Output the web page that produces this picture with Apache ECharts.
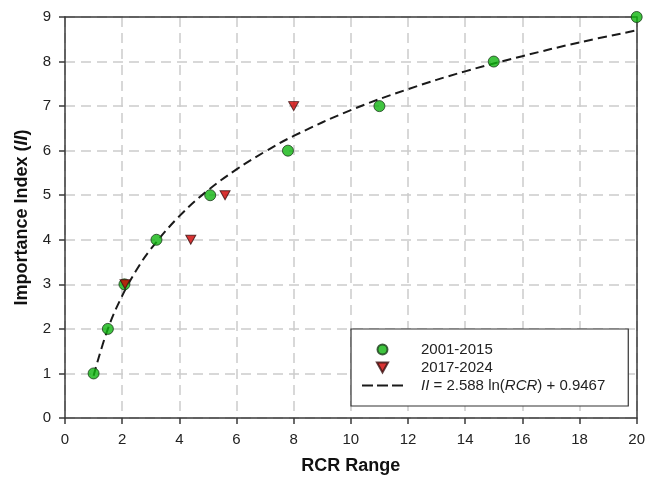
<!DOCTYPE html>
<html>
<head>
<meta charset="utf-8">
<script src="https://cdn.jsdelivr.net/npm/echarts@6/dist/echarts.min.js"></script>
<style>
  html, body { margin: 0; padding: 0; background: #fff; }
  #chart { width: 648px; height: 486px; }
</style>
</head>
<body>
<div id="chart"></div>
<script>
// 2001-2015 observations
const earlyX = [1, 1.5, 2.08, 3.2, 5.08, 7.8, 11, 15, 20];
const earlyY = [1, 2, 3, 4, 5, 6, 7, 8, 9];

// 2017-2024 observations
const lateX = [2.1, 4.4, 5.6, 8];
const lateY = [3, 4, 5, 7];

// fitted curve
const fitX = [1, 1.5, 2, 2.5, 3, 4, 5, 6, 7, 8, 10, 12, 14, 16, 18, 20];
const fitY = [0.95, 2.0, 2.74, 3.32, 3.79, 4.53, 5.11, 5.58, 5.98, 6.33, 6.91, 7.38, 7.78, 8.12, 8.43, 8.70];

const pairs = (xs, ys) => xs.map((x, i) => [x, ys[i]]);

const font = 'Liberation Sans, Arial, sans-serif';
const axisColor = '#3a3a3a';
const gridLine = { show: true, lineStyle: { color: '#cccccc', type: [10, 6], width: 1.5 } };
const frame = {
  show: true,
  axisLine: { show: true, onZero: false, lineStyle: { color: axisColor, width: 1.5 } },
  axisTick: { show: false },
  axisLabel: { show: false },
  splitLine: { show: false }
};

const chart = echarts.init(document.getElementById('chart'));

chart.setOption({
  backgroundColor: '#fff',
  animation: false,
  grid: { left: 65, right: 10, top: 17, bottom: 68 },
  xAxis: [{
    type: 'value',
    min: 0, max: 20, interval: 2,
    name: 'RCR Range',
    nameLocation: 'middle',
    nameGap: 39,
    nameTextStyle: { fontFamily: font, fontSize: 18, fontWeight: 'bold', color: '#111' },
    axisLine: { show: true, onZero: false, lineStyle: { color: axisColor, width: 1.5 } },
    axisTick: { show: true, length: 6, lineStyle: { color: axisColor, width: 1.5 } },
    axisLabel: { fontFamily: font, fontSize: 15, color: '#222', margin: 14 },
    splitLine: gridLine
  }, Object.assign({ type: 'value', min: 0, max: 20, position: 'top' }, frame)],
  yAxis: [{
    type: 'value',
    min: 0, max: 9, interval: 1,
    name: '{b|Importance Index (}{bi|II}{b|)}',
    nameLocation: 'middle',
    nameGap: 34,
    nameTextStyle: {
      rich: {
        b: { fontFamily: font, fontSize: 18, fontWeight: 'bold', color: '#111' },
        bi: { fontFamily: font, fontSize: 18, fontWeight: 'bold', fontStyle: 'italic', color: '#111' }
      }
    },
    axisLine: { show: true, onZero: false, lineStyle: { color: axisColor, width: 1.5 } },
    axisTick: { show: true, length: 6, lineStyle: { color: axisColor, width: 1.5 } },
    axisLabel: { fontFamily: font, fontSize: 15, color: '#222', margin: 14 },
    splitLine: gridLine
  }, Object.assign({ type: 'value', min: 0, max: 9, position: 'right' }, frame)],
  legend: {
    orient: 'vertical',
    left: 351,
    top: 329,
    padding: [13, 23, 13, 11],
    itemGap: 3,
    itemWidth: 41,
    itemHeight: 10,
    backgroundColor: '#fff',
    borderColor: '#333',
    borderWidth: 1.2,
    borderRadius: 0,
    textStyle: {
      fontFamily: font, fontSize: 15, color: '#222', padding: [0, 0, 0, 13],
      rich: {
        t: { fontFamily: font, fontSize: 15, color: '#222' },
        i: { fontFamily: font, fontSize: 15, color: '#222', fontStyle: 'italic' }
      }
    },
    formatter: (name) => name === 'fit'
      ? '{i|II}{t| = 2.588 ln(}{i|RCR}{t|) + 0.9467}'
      : name,
    data: [
      { name: '2001-2015', icon: 'circle' },
      { name: '2017-2024', icon: 'path://M0,0 L10,0 L5,9 Z' },
      { name: 'fit', icon: 'path://M0,0 H11 V2 H0 Z M15,0 H26 V2 H15 Z M30,0 H41 V2 H30 Z' }
    ]
  },
  series: [
    {
      name: 'fit',
      type: 'line',
      data: pairs(fitX, fitY),
      smooth: 0.4,
      showSymbol: false,
      symbol: 'none',
      lineStyle: { color: '#1a1a1a', width: 2, type: [9, 5] },
      itemStyle: { color: '#1a1a1a' },
      z: 3
    },
    {
      name: '2001-2015',
      type: 'scatter',
      data: pairs(earlyX, earlyY),
      symbol: 'circle',
      symbolSize: 11,
      itemStyle: { color: '#0fb50f', borderColor: '#1a3a1a', borderWidth: 1 },
      z: 4
    },
    {
      name: '2017-2024',
      type: 'scatter',
      data: pairs(lateX, lateY),
      symbol: 'triangle',
      symbolRotate: 180,
      symbolSize: [10, 9],
      itemStyle: { color: '#d00000', borderColor: '#3a1010', borderWidth: 1 },
      z: 5
    }
  ]
});
</script>
</body>
</html>
